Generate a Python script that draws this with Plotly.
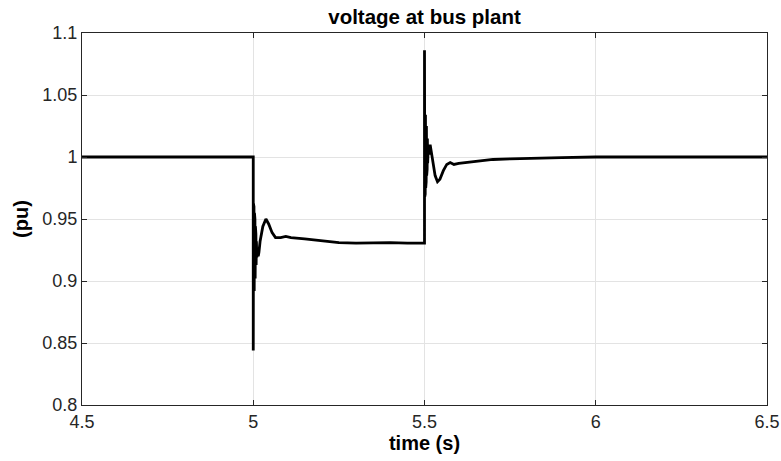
import plotly.graph_objects as go

# time (s)
time = [4.5, 5.0, 5.0, 5.0007, 5.0014, 5.0021, 5.0028, 5.0035, 5.0042, 5.0049, 5.0056,
        5.0063, 5.007, 5.0077, 5.0084, 5.0092, 5.0105, 5.0125, 5.0145, 5.0165, 5.02,
        5.028, 5.037, 5.045, 5.055, 5.065, 5.08, 5.095, 5.11, 5.15, 5.2, 5.25, 5.3,
        5.35, 5.4, 5.45, 5.5, 5.5, 5.5007, 5.5014, 5.5021, 5.5028, 5.5035, 5.5042,
        5.5049, 5.5056, 5.5063, 5.507, 5.5077, 5.5084, 5.5092, 5.511, 5.5135, 5.5165,
        5.519, 5.525, 5.531, 5.538, 5.545, 5.555, 5.565, 5.575, 5.586, 5.6, 5.62,
        5.65, 5.7, 5.75, 5.8, 5.9, 6.0, 6.5]
# voltage (pu)
voltage = [1.0, 1.0, 0.844, 0.962, 0.890, 0.960, 0.892, 0.955, 0.897, 0.950, 0.902,
           0.944, 0.908, 0.938, 0.913, 0.932, 0.919, 0.924, 0.920, 0.923, 0.932,
           0.944, 0.950, 0.946, 0.939, 0.935, 0.935, 0.936, 0.935, 0.934, 0.9325,
           0.931, 0.9305, 0.931, 0.931, 0.9305, 0.9305, 1.086, 0.968, 1.038, 0.970,
           1.034, 0.975, 1.030, 0.980, 1.025, 0.985, 1.020, 0.990, 1.015, 0.995,
           1.008, 1.002, 1.010, 1.005, 0.993, 0.985, 0.980, 0.982, 0.989, 0.994,
           0.9955, 0.994, 0.9948, 0.9955, 0.9965, 0.998, 0.9985, 0.999, 0.9995,
           1.0, 1.0]

x_ticks = [4.5, 5.0, 5.5, 6.0, 6.5]
x_tick_labels = ["4.5", "5", "5.5", "6", "6.5"]
y_ticks = [0.8, 0.85, 0.9, 0.95, 1.0, 1.05, 1.1]
y_tick_labels = ["0.8", "0.85", "0.9", "0.95", "1", "1.05", "1.1"]

title_text = "voltage at bus plant"
x_label = "time (s)"
y_label = "(pu)"

axis_col = "#262626"
grid_col = "#e3e3e3"
font_fam = "Liberation Sans, Arial, sans-serif"

fig = go.Figure()
fig.add_trace(go.Scatter(x=time, y=voltage, mode="lines",
                         line=dict(color="black", width=2.8),
                         showlegend=False, hoverinfo="skip"))

fig.update_layout(
    width=781, height=461,
    margin=dict(l=82, r=14, t=33, b=56, autoexpand=False),
    paper_bgcolor="white", plot_bgcolor="white",
    font=dict(family=font_fam, color=axis_col, size=18),
    title=dict(text="<b>" + title_text + "</b>", x=424.5 / 781, xanchor="center",
               y=1 - 17 / 461, yanchor="middle", yref="container",
               font=dict(size=20.5, color="black", family=font_fam)),
)

fig.update_xaxes(
    range=[4.5, 6.5], tickvals=x_ticks, ticktext=x_tick_labels,
    showline=True, linecolor=axis_col, linewidth=1, mirror="ticks",
    ticks="inside", ticklen=5, tickcolor=axis_col, tickwidth=1,
    showgrid=True, gridcolor=grid_col, gridwidth=1, zeroline=False,
    tickfont=dict(size=18, color=axis_col), automargin=False,
    title=dict(text="<b>" + x_label + "</b>", font=dict(size=20, color="black"), standoff=5),
)
fig.update_yaxes(
    range=[0.8, 1.1], tickvals=y_ticks, ticktext=y_tick_labels,
    showline=True, linecolor=axis_col, linewidth=1, mirror="ticks",
    ticks="inside", ticklen=5, tickcolor=axis_col, tickwidth=1,
    showgrid=True, gridcolor=grid_col, gridwidth=1, zeroline=False,
    tickfont=dict(size=18, color=axis_col), automargin=False,
    title=dict(text="<b>" + y_label + "</b>", font=dict(size=20, color="black"), standoff=8),
)

fig.write_html("out.html")
